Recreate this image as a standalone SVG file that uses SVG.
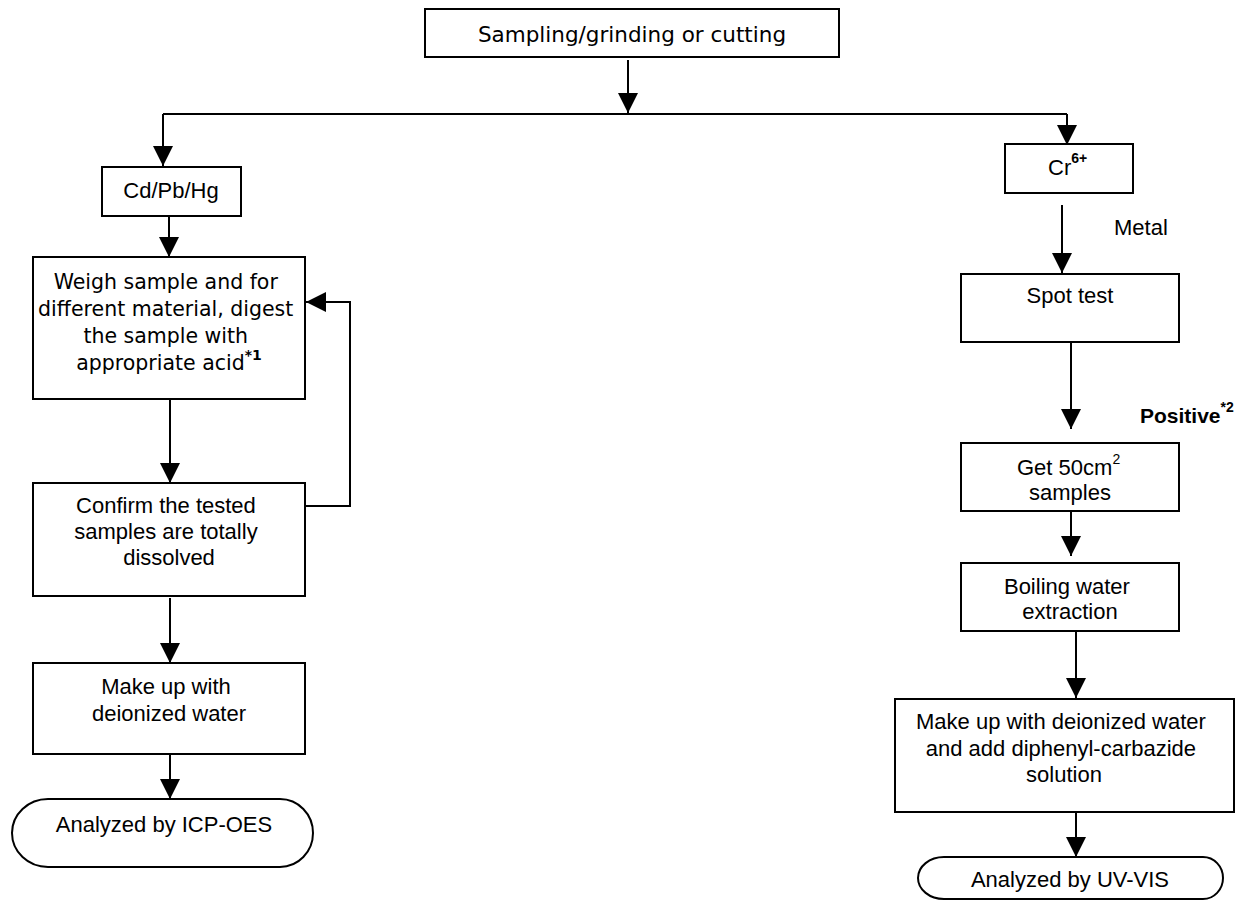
<svg xmlns="http://www.w3.org/2000/svg" width="1247" height="901" viewBox="0 0 1247 901">
  <style>
    .box { fill: #ffffff; stroke: #000000; stroke-width: 2; }
    .line { fill: none; stroke: #000000; stroke-width: 2; }
    .t { font-family: "Liberation Sans", Arial, sans-serif; font-size: 22px; fill: #000000; text-anchor: middle; }
    .v { font-family: "DejaVu Sans", Verdana, sans-serif; fill: #000000; text-anchor: middle; }
    .sup { font-size: 14px; }
    .b { font-weight: bold; }
  </style>
  <defs>
    <marker id="arrow" markerUnits="userSpaceOnUse" markerWidth="20" markerHeight="20" refX="20" refY="10" orient="auto">
      <path d="M0,0 L20,10 L0,20 Z" fill="#000000"/>
    </marker>
  </defs>

  <rect width="1247" height="901" fill="#ffffff"/>

  <!-- connectors -->
  <g id="connectors">
    <line class="line" x1="628" y1="60" x2="628" y2="113" marker-end="url(#arrow)"/>
    <polyline class="line" points="163,114 1067,114"/>
    <line class="line" x1="163" y1="114" x2="163" y2="166" marker-end="url(#arrow)"/>
    <line class="line" x1="1067" y1="114" x2="1067" y2="145" marker-end="url(#arrow)"/>
    <!-- left branch -->
    <line class="line" x1="169" y1="216" x2="169" y2="257" marker-end="url(#arrow)"/>
    <line class="line" x1="170" y1="399" x2="170" y2="483" marker-end="url(#arrow)"/>
    <polyline class="line" points="305,506 350,506 350,302 306,302" marker-end="url(#arrow)"/>
    <line class="line" x1="170" y1="598" x2="170" y2="663" marker-end="url(#arrow)"/>
    <line class="line" x1="170" y1="754" x2="170" y2="799" marker-end="url(#arrow)"/>
    <!-- right branch -->
    <line class="line" x1="1062" y1="205" x2="1062" y2="273" marker-end="url(#arrow)"/>
    <line class="line" x1="1071" y1="342" x2="1071" y2="429" marker-end="url(#arrow)"/>
    <line class="line" x1="1071" y1="511" x2="1071" y2="556" marker-end="url(#arrow)"/>
    <line class="line" x1="1076" y1="631" x2="1076" y2="698" marker-end="url(#arrow)"/>
    <line class="line" x1="1076" y1="812" x2="1076" y2="857" marker-end="url(#arrow)"/>
    <text class="t" x="1114" y="235" style="text-anchor:start">Metal</text>
    <text class="t b" x="1140" y="423" style="text-anchor:start;font-size:21px">Positive<tspan class="sup" dy="-11">*2</tspan></text>
  </g>

  <g id="start">
    <rect class="box" x="425" y="9" width="414" height="48"/>
    <text class="v" x="632" y="42" font-size="21.5">Sampling/grinding or cutting</text>
  </g>

  <g id="cdpbhg">
    <rect class="box" x="102" y="167" width="139" height="49"/>
    <text class="t" x="171" y="198">Cd/Pb/Hg</text>
  </g>

  <g id="digest">
    <rect class="box" x="33" y="257" width="272" height="142"/>
    <text class="v" font-size="20.5">
      <tspan x="169" y="289">Weigh sample and for</tspan>
      <tspan x="169" y="316">different material, digest</tspan>
      <tspan x="169" y="343">the sample with</tspan>
      <tspan x="169" y="370">appropriate acid<tspan class="b" font-size="14" dy="-10">*1</tspan></tspan>
    </text>
  </g>

  <g id="confirm">
    <rect class="box" x="33" y="483" width="272" height="113"/>
    <text class="t">
      <tspan x="169" y="513">Confirm the tested</tspan>
      <tspan x="169" y="539">samples are totally</tspan>
      <tspan x="169" y="565">dissolved</tspan>
    </text>
  </g>

  <g id="makeup-left">
    <rect class="box" x="33" y="663" width="272" height="91"/>
    <text class="t">
      <tspan x="169" y="694">Make up with</tspan>
      <tspan x="169" y="721">deionized water</tspan>
    </text>
  </g>

  <g id="icp-oes">
    <path class="box" d="M48,799 H280 A33,34 0 0 1 280,867 H48 A36,34 0 0 1 48,799 Z"/>
    <text class="t" x="164" y="832">Analyzed by ICP-OES</text>
  </g>

  <g id="cr6">
    <rect class="box" x="1005" y="144" width="128" height="49"/>
    <text class="t" x="1048" y="175" style="text-anchor:start">Cr<tspan class="sup b" dy="-12">6+</tspan></text>
  </g>

  <g id="spot-test">
    <rect class="box" x="961" y="274" width="218" height="68"/>
    <text class="t" x="1070" y="303">Spot test</text>
  </g>

  <g id="get-samples">
    <rect class="box" x="961" y="443" width="218" height="68"/>
    <text class="t" x="1017" y="475" style="text-anchor:start">Get 50cm<tspan class="sup" dy="-11">2</tspan></text>
    <text class="t" x="1070" y="500">samples</text>
  </g>

  <g id="boiling">
    <rect class="box" x="961" y="563" width="218" height="68"/>
    <text class="t">
      <tspan x="1070" y="594">Boiling water</tspan>
      <tspan x="1070" y="619">extraction</tspan>
    </text>
  </g>

  <g id="makeup-right">
    <rect class="box" x="895" y="699" width="339" height="113"/>
    <text class="t">
      <tspan x="1064" y="729">Make up with deionized water</tspan>
      <tspan x="1064" y="756">and add diphenyl-carbazide</tspan>
      <tspan x="1064" y="782">solution</tspan>
    </text>
  </g>

  <g id="uv-vis">
    <path class="box" d="M944,857 H1203 A20,21 0 0 1 1203,899 H944 A26,21 0 0 1 944,857 Z"/>
    <text class="t" x="1070" y="887">Analyzed by UV-VIS</text>
  </g>
</svg>
